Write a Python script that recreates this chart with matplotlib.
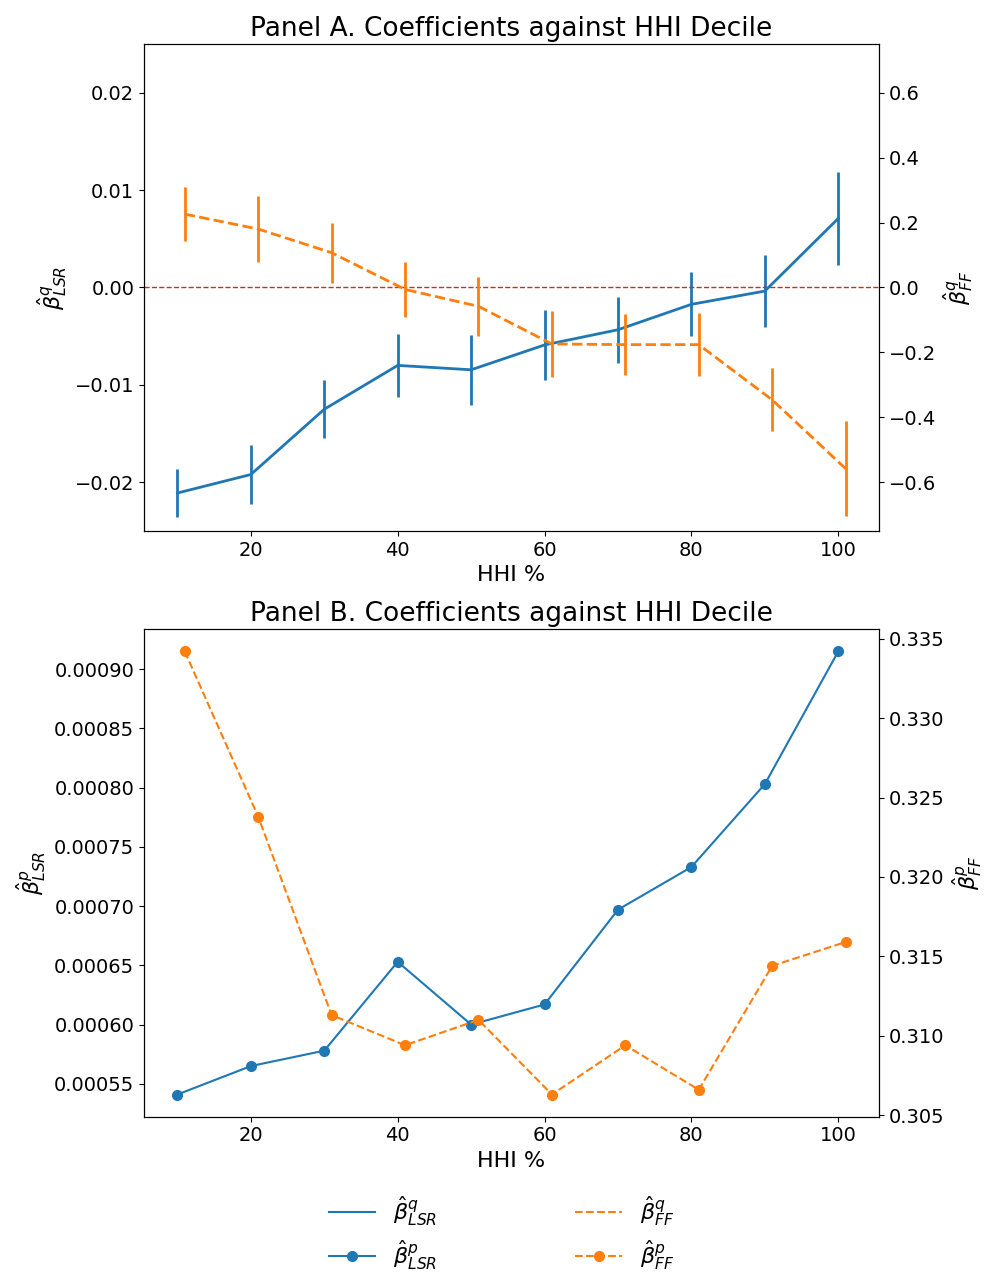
import matplotlib
matplotlib.use("Agg")
import matplotlib.pyplot as plt
from matplotlib.lines import Line2D

# HHI decile (FF series is shifted right by 1 so the bars don't overlap)
hhi = [10, 20, 30, 40, 50, 60, 70, 80, 90, 100]
hhi_ff = [11, 21, 31, 41, 51, 61, 71, 81, 91, 101]

# Panel A: quantity coefficients with error bars
lsr_q = [-0.0211, -0.0192, -0.0125, -0.0080, -0.00845, -0.0059, -0.00434, -0.00173, -0.00037, 0.00709]
lsr_q_err = [0.0025, 0.0030, 0.0030, 0.0032, 0.0036, 0.0036, 0.0034, 0.0033, 0.0037, 0.0048]
ff_q = [0.226, 0.180, 0.107, -0.006, -0.058, -0.174, -0.176, -0.176, -0.346, -0.558]
ff_q_err = [0.082, 0.101, 0.093, 0.086, 0.091, 0.101, 0.093, 0.096, 0.097, 0.147]

# Panel B: price coefficients
lsr_p = [0.000541, 0.000565, 0.000578, 0.000653, 0.000600, 0.000617, 0.000697, 0.000733, 0.000803, 0.000915]
ff_p = [0.3342, 0.3238, 0.3113, 0.3094, 0.3110, 0.3063, 0.3094, 0.3066, 0.3144, 0.3159]

blue = "tab:blue"
orange = "tab:orange"

fig = plt.figure(figsize=(9.87, 12.74), dpi=100)
ax1 = fig.add_axes([0.1459, 0.5832, 0.7447, 0.3823])
ax2 = fig.add_axes([0.1459, 0.1235, 0.7447, 0.3826])

# Panel A
ax1.errorbar(hhi, lsr_q, yerr=lsr_q_err, color=blue, lw=2)
ax1.axhline(0, color="tab:red", ls="--", lw=1)
ax1.set_ylim(-0.025, 0.025)
ax1.set_ylabel(r"$\hat{\beta}^q_{LSR}$", fontsize=16)
ax1.set_xlabel("HHI %", fontsize=16)
ax1.set_title("Panel A. Coefficients against HHI Decile", fontsize=19)
ax1r = ax1.twinx()
ax1r.errorbar(hhi_ff, ff_q, yerr=ff_q_err, color=orange, lw=2, ls="--")
ax1r.set_ylim(-0.75, 0.75)
ax1r.set_ylabel(r"$\hat{\beta}^q_{FF}$", fontsize=16)

# Panel B
ax2.plot(hhi, lsr_p, color=blue, marker="o", lw=1.5, ms=7)
ax2.set_ylabel(r"$\hat{\beta}^p_{LSR}$", fontsize=16)
ax2.set_xlabel("HHI %", fontsize=16)
ax2.set_title("Panel B. Coefficients against HHI Decile", fontsize=19)
ax2r = ax2.twinx()
ax2r.plot(hhi_ff, ff_p, color=orange, marker="o", lw=1.5, ms=7, ls="--")
ax2r.set_ylabel(r"$\hat{\beta}^p_{FF}$", fontsize=16)

for a in [ax1, ax1r, ax2, ax2r]:
    a.tick_params(labelsize=14)

handles = [
    Line2D([], [], color=blue, lw=1.5),
    Line2D([], [], color=blue, lw=1.5, marker="o", ms=7),
    Line2D([], [], color=orange, lw=1.5, ls="--"),
    Line2D([], [], color=orange, lw=1.5, ls="--", marker="o", ms=7),
]
labels = [r"$\hat{\beta}^q_{LSR}$", r"$\hat{\beta}^p_{LSR}$",
          r"$\hat{\beta}^q_{FF}$", r"$\hat{\beta}^p_{FF}$"]
fig.legend(handles, labels, loc="upper center", bbox_to_anchor=(0.508, 0.073),
           ncol=2, frameon=False, fontsize=16, columnspacing=6.2,
           handlelength=2.1, labelspacing=0.45, borderaxespad=0.2)

plt.savefig("out.png", dpi=100)
